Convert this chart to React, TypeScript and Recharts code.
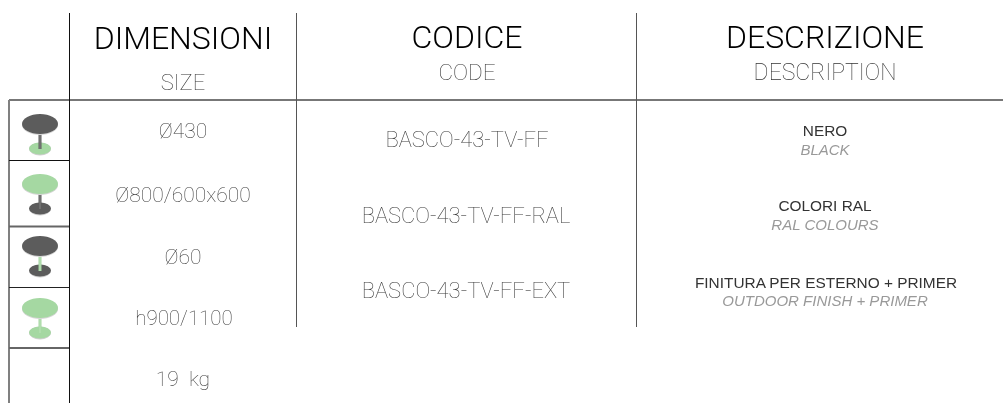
import React from 'react';
import { ScatterChart, Scatter, XAxis, YAxis, ReferenceLine } from 'recharts';

const GREEN = '#a5d8a2';
const DARK = '#5c5c5c';
const ROBOTO = 'Roboto, sans-serif';
const SANS = '"Liberation Sans", sans-serif';

// table rules: [x1, y1, x2, y2, colour, width]
const RULES: [number, number, number, number, string, number][] = [
  [9, 100, 1003, 100, '#777777', 2],
  [9, 100, 9, 403, '#808080', 2],
  [69.5, 13, 69.5, 403, '#111111', 1],
  [296.5, 13, 296.5, 327, '#555555', 1],
  [636.5, 13, 636.5, 327, '#555555', 1],
  [9, 160.5, 69, 160.5, '#111111', 1],
  [9, 226.5, 69, 226.5, '#666666', 2],
  [9, 287.5, 69, 287.5, '#222222', 1],
  [9, 348, 69, 348, '#666666', 2],
];

const HEADERS = [
  { x: 183, y: 38, text: 'DIMENSIONI', size: 32, color: '#000000', weight: 340, font: ROBOTO },
  { x: 467, y: 37, text: 'CODICE', size: 32, color: '#000000', weight: 340, font: ROBOTO },
  { x: 825, y: 37, text: 'DESCRIZIONE', size: 32, color: '#000000', weight: 340, font: ROBOTO },
  { x: 183, y: 82, text: 'SIZE', size: 22, color: '#333333', weight: 100, font: ROBOTO },
  { x: 467, y: 72, text: 'CODE', size: 22.5, color: '#333333', weight: 100, font: ROBOTO },
  { x: 825, y: 72, text: 'DESCRIPTION', size: 23, color: '#333333', weight: 100, font: ROBOTO },
];

const SIZES = [
  { x: 183, y: 131, text: 'Ø430', size: 21, color: '#3a3a3a', weight: 100, font: ROBOTO },
  { x: 183, y: 195, text: 'Ø800/600x600', size: 21, color: '#3a3a3a', weight: 100, font: ROBOTO },
  { x: 183, y: 257, text: 'Ø60', size: 21, color: '#3a3a3a', weight: 100, font: ROBOTO },
  { x: 184, y: 318, text: 'h900/1100', size: 20.5, color: '#3a3a3a', weight: 100, font: ROBOTO },
  { x: 183, y: 379, text: '19\u00A0 kg', size: 21, color: '#3a3a3a', weight: 100, font: ROBOTO },
];

const CODES = [
  { x: 467, y: 139, text: 'BASCO-43-TV-FF', size: 22, color: '#3a3a3a', weight: 100, font: ROBOTO },
  { x: 466, y: 215, text: 'BASCO-43-TV-FF-RAL', size: 22, color: '#3a3a3a', weight: 100, font: ROBOTO },
  { x: 466, y: 290, text: 'BASCO-43-TV-FF-EXT', size: 22, color: '#3a3a3a', weight: 100, font: ROBOTO },
];

const DESCRIPTIONS = [
  { x: 825, y: 130, text: 'NERO', size: 15.4, color: '#333333', weight: 400, font: SANS },
  { x: 825, y: 205, text: 'COLORI RAL', size: 15.4, color: '#333333', weight: 400, font: SANS },
  { x: 826, y: 282, text: 'FINITURA PER ESTERNO + PRIMER', size: 15.4, color: '#333333', weight: 400, font: SANS },
];

const TRANSLATIONS = [
  { x: 825, y: 149, text: 'BLACK', size: 15, color: '#999999', weight: 400, italic: true, font: SANS },
  { x: 825, y: 224, text: 'RAL COLOURS', size: 15, color: '#999999', weight: 400, italic: true, font: SANS },
  { x: 825, y: 300, text: 'OUTDOOR FINISH + PRIMER', size: 15, color: '#999999', weight: 400, italic: true, font: SANS },
];

const ICONS = [
  { x: 40, y: 124, top: DARK, base: GREEN, stem: DARK },
  { x: 40, y: 184, top: GREEN, base: DARK, stem: DARK },
  { x: 40, y: 246, top: DARK, base: DARK, stem: GREEN },
  { x: 40, y: 308, top: GREEN, base: GREEN, stem: GREEN },
];

function TextMark(props: any) {
  const { cx, cy, payload } = props;
  return (
    <text
      x={cx}
      y={cy}
      textAnchor="middle"
      dominantBaseline="central"
      fontFamily={payload.font}
      fontSize={payload.size}
      fontWeight={payload.weight}
      fontStyle={payload.italic ? 'italic' : 'normal'}
      fill={payload.color}
      style={{ filter: 'grayscale(1)' }}
    >
      {payload.text}
    </text>
  );
}

function TableIcon(props: any) {
  const { cx, cy, payload } = props;
  return (
    <g>
      <ellipse cx={cx} cy={cy + 25} rx={11} ry={6.5} fill="#cfcfcf" />
      <ellipse cx={cx} cy={cy + 24.5} rx={11} ry={6} fill={payload.base} />
      <rect x={cx - 1.5} y={cy + 8} width={3} height={17} fill={payload.stem} />
      <rect x={cx - 0.5} y={cy + 8} width={1} height={17} fill="#ffffff" opacity={0.25} />
      <ellipse cx={cx} cy={cy + 1} rx={18} ry={10} fill="#d6d6d6" />
      <ellipse cx={cx} cy={cy} rx={18} ry={10} fill={payload.top} />
    </g>
  );
}

const ALL_TEXT = [HEADERS, SIZES, CODES, DESCRIPTIONS, TRANSLATIONS];

export default function App() {
  return (
    <div style={{ width: 1003, height: 403, background: '#ffffff' }}>
      <style>{'body { margin: 0; }'}</style>
      <ScatterChart width={1003} height={403} margin={{ top: 0, right: 0, bottom: 0, left: 0 }}>
        <XAxis type="number" dataKey="x" domain={[0, 1003]} hide />
        <YAxis type="number" dataKey="y" domain={[0, 403]} reversed hide />
        {RULES.map(([x1, y1, x2, y2, color, width], i) => (
          <ReferenceLine
            key={i}
            segment={[{ x: x1, y: y1 }, { x: x2, y: y2 }]}
            stroke={color}
            strokeWidth={width}
          />
        ))}
        <Scatter data={ICONS} shape={TableIcon} isAnimationActive={false} />
        {ALL_TEXT.map((rows, i) => (
          <Scatter key={i} data={rows} shape={TextMark} isAnimationActive={false} />
        ))}
      </ScatterChart>
    </div>
  );
}
